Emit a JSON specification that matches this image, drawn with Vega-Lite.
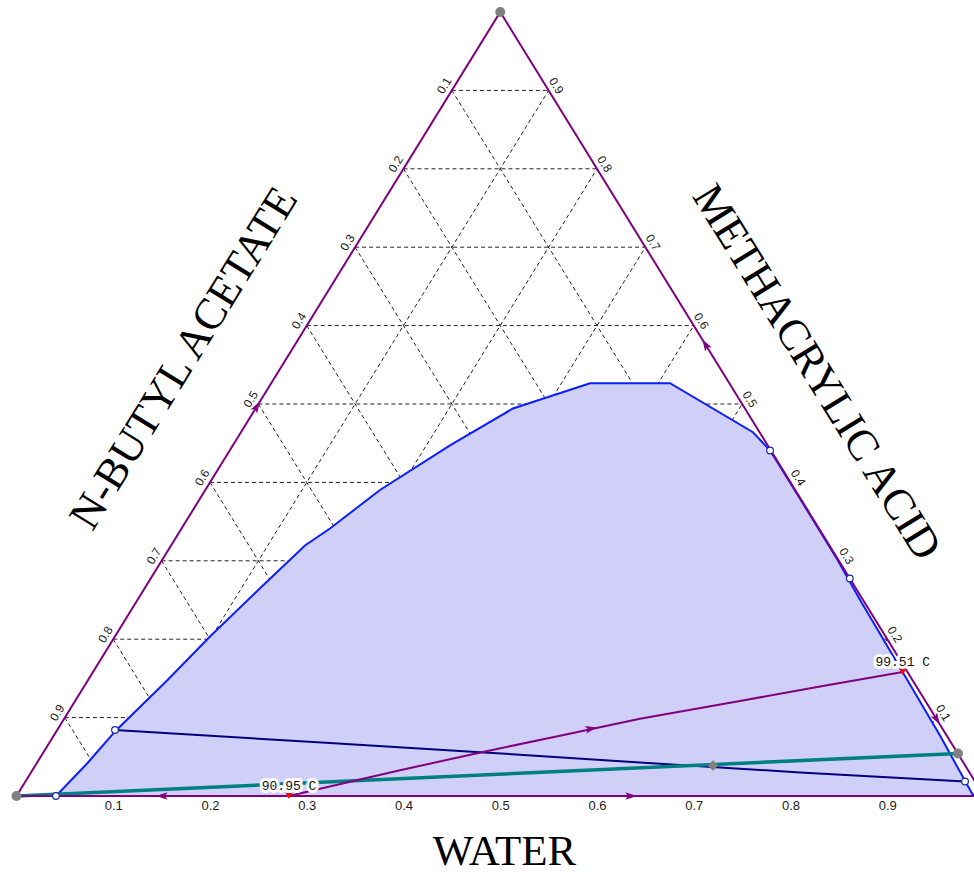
{
  "$schema": "https://vega.github.io/schema/vega-lite/v6.json",
  "width": 974,
  "height": 796,
  "autosize": {"type": "none"},
  "padding": {"left": 0, "top": 0, "right": 0, "bottom": 78},
  "background": "#ffffff",
  "config": {"view": {"stroke": null}},
  "encoding": {
    "x": {
      "field": "u",
      "type": "quantitative",
      "scale": {"domain": [-0.01705, 0.98966], "nice": false, "zero": false},
      "axis": {
        "values": [0.1, 0.2, 0.3, 0.4, 0.5, 0.6, 0.7, 0.8, 0.9],
        "format": ".1f",
        "domain": false,
        "ticks": false,
        "grid": false,
        "labelFont": "Liberation Sans",
        "labelFontSize": 13,
        "labelColor": "#1a1a1a",
        "labelPadding": 3,
        "labelFlush": false,
        "labelOverlap": false,
        "title": "WATER",
        "titleFont": "Liberation Serif",
        "titleFontSize": 43,
        "titleFontWeight": "normal",
        "titleColor": "#000000",
        "titleX": 504,
        "titleY": 68,
        "titleBaseline": "alphabetic",
        "titleAlign": "center"
      }
    },
    "y": {
      "field": "a",
      "type": "quantitative",
      "scale": {"domain": [0, 1.01531], "nice": false, "zero": false},
      "axis": null
    }
  },
  "layer": [
    {
      "description": "dashed composition grid: constant acid, constant water, constant butyl acetate",
      "data": {"values": [
        {"g": "h1", "u": 0.05, "a": 0.1}, {"g": "h1", "u": 0.95, "a": 0.1},
        {"g": "h2", "u": 0.1, "a": 0.2}, {"g": "h2", "u": 0.9, "a": 0.2},
        {"g": "h3", "u": 0.15, "a": 0.3}, {"g": "h3", "u": 0.85, "a": 0.3},
        {"g": "h4", "u": 0.2, "a": 0.4}, {"g": "h4", "u": 0.8, "a": 0.4},
        {"g": "h5", "u": 0.25, "a": 0.5}, {"g": "h5", "u": 0.75, "a": 0.5},
        {"g": "h6", "u": 0.3, "a": 0.6}, {"g": "h6", "u": 0.7, "a": 0.6},
        {"g": "h7", "u": 0.35, "a": 0.7}, {"g": "h7", "u": 0.65, "a": 0.7},
        {"g": "h8", "u": 0.4, "a": 0.8}, {"g": "h8", "u": 0.6, "a": 0.8},
        {"g": "h9", "u": 0.45, "a": 0.9}, {"g": "h9", "u": 0.55, "a": 0.9},
        {"g": "w1", "u": 0.1, "a": 0}, {"g": "w1", "u": 0.55, "a": 0.9},
        {"g": "w2", "u": 0.2, "a": 0}, {"g": "w2", "u": 0.6, "a": 0.8},
        {"g": "w3", "u": 0.3, "a": 0}, {"g": "w3", "u": 0.65, "a": 0.7},
        {"g": "w4", "u": 0.4, "a": 0}, {"g": "w4", "u": 0.7, "a": 0.6},
        {"g": "w5", "u": 0.5, "a": 0}, {"g": "w5", "u": 0.75, "a": 0.5},
        {"g": "w6", "u": 0.6, "a": 0}, {"g": "w6", "u": 0.8, "a": 0.4},
        {"g": "w7", "u": 0.7, "a": 0}, {"g": "w7", "u": 0.85, "a": 0.3},
        {"g": "w8", "u": 0.8, "a": 0}, {"g": "w8", "u": 0.9, "a": 0.2},
        {"g": "w9", "u": 0.9, "a": 0}, {"g": "w9", "u": 0.95, "a": 0.1},
        {"g": "b1", "u": 0.45, "a": 0.9}, {"g": "b1", "u": 0.9, "a": 0},
        {"g": "b2", "u": 0.4, "a": 0.8}, {"g": "b2", "u": 0.8, "a": 0},
        {"g": "b3", "u": 0.35, "a": 0.7}, {"g": "b3", "u": 0.7, "a": 0},
        {"g": "b4", "u": 0.3, "a": 0.6}, {"g": "b4", "u": 0.6, "a": 0},
        {"g": "b5", "u": 0.25, "a": 0.5}, {"g": "b5", "u": 0.5, "a": 0},
        {"g": "b6", "u": 0.2, "a": 0.4}, {"g": "b6", "u": 0.4, "a": 0},
        {"g": "b7", "u": 0.15, "a": 0.3}, {"g": "b7", "u": 0.3, "a": 0},
        {"g": "b8", "u": 0.1, "a": 0.2}, {"g": "b8", "u": 0.2, "a": 0},
        {"g": "b9", "u": 0.05, "a": 0.1}, {"g": "b9", "u": 0.1, "a": 0}
      ]},
      "mark": {"type": "line", "color": "#222222", "strokeWidth": 1, "strokeDash": [4, 3]},
      "encoding": {"detail": {"field": "g", "type": "nominal"}}
    },
    {
      "description": "two-liquid-phase region under the binodal curve",
      "data": {"name": "binodal", "values": [
        {"u": 0.0408, "a": 0},
        {"u": 0.0739, "a": 0.0427},
        {"u": 0.1028, "a": 0.0836},
        {"u": 0.1556, "a": 0.1473},
        {"u": 0.2000, "a": 0.2034},
        {"u": 0.2517, "a": 0.2650},
        {"u": 0.2982, "a": 0.3195},
        {"u": 0.3240, "a": 0.3412},
        {"u": 0.3757, "a": 0.3903},
        {"u": 0.4481, "a": 0.4471},
        {"u": 0.5132, "a": 0.4943},
        {"u": 0.5928, "a": 0.5265},
        {"u": 0.6755, "a": 0.5265},
        {"u": 0.7612, "a": 0.4640},
        {"u": 0.7789, "a": 0.4407},
        {"u": 0.8110, "a": 0.3769},
        {"u": 0.8490, "a": 0.3003},
        {"u": 0.8722, "a": 0.2494},
        {"u": 0.9162, "a": 0.1576},
        {"u": 0.9545, "a": 0.0772},
        {"u": 0.9876, "a": 0.0032},
        {"u": 0.9897, "a": 0}
      ]},
      "mark": {"type": "area", "color": "#cfcff8", "opacity": 1},
      "encoding": {"y": {"field": "a", "type": "quantitative", "stack": null}, "y2": {"datum": 0}}
    },
    {
      "data": {"name": "binodal"},
      "mark": {"type": "line", "color": "#0a1eff", "strokeWidth": 2}
    },
    {
      "description": "tie line",
      "data": {"values": [
        {"u": 0.1018, "a": 0.0842},
        {"u": 0.3240, "a": 0.0675},
        {"u": 0.4791, "a": 0.0559},
        {"u": 0.6444, "a": 0.0427},
        {"u": 0.8098, "a": 0.0300},
        {"u": 0.9804, "a": 0.0185}
      ]},
      "mark": {"type": "line", "color": "#000080", "strokeWidth": 2}
    },
    {
      "description": "mass balance line",
      "data": {"values": [
        {"u": 0, "a": 0},
        {"u": 0.9731, "a": 0.0542}
      ]},
      "mark": {"type": "line", "color": "#008080", "strokeWidth": 3.5}
    },
    {
      "description": "distillation boundary between the two azeotropes",
      "data": {"values": [
        {"u": 0.2817, "a": 0},
        {"u": 0.3137, "a": 0.0092},
        {"u": 0.3964, "a": 0.0328},
        {"u": 0.4808, "a": 0.0559},
        {"u": 0.5618, "a": 0.0769},
        {"u": 0.6444, "a": 0.0985},
        {"u": 0.7478, "a": 0.1212},
        {"u": 0.8305, "a": 0.1397},
        {"u": 0.9160, "a": 0.1582}
      ]},
      "mark": {"type": "line", "color": "#800080", "strokeWidth": 2}
    },
    {
      "description": "triangle edges",
      "data": {"values": [
        {"k": 0, "u": 0, "a": 0},
        {"k": 1, "u": 0.5, "a": 1},
        {"k": 2, "u": 1, "a": 0},
        {"k": 3, "u": 0, "a": 0}
      ]},
      "mark": {"type": "line", "color": "#800080", "strokeWidth": 2},
      "encoding": {"order": {"field": "k", "type": "quantitative"}}
    },
    {
      "data": {"values": [{"u": 0.2478, "a": 0.4955}]},
      "mark": {"type": "point", "shape": "M0,-1L0.55,0.65L0,0.3L-0.55,0.65Z", "filled": true, "color": "#800080", "opacity": 1, "size": 196, "angle": 31.7}
    },
    {
      "data": {"values": [{"u": 0.7127, "a": 0.5746}]},
      "mark": {"type": "point", "shape": "M0,-1L0.55,0.65L0,0.3L-0.55,0.65Z", "filled": true, "color": "#800080", "opacity": 1, "size": 196, "angle": 328.3}
    },
    {
      "data": {"values": [{"u": 0.9506, "a": 0.0989}]},
      "mark": {"type": "point", "shape": "M0,-1L0.55,0.65L0,0.3L-0.55,0.65Z", "filled": true, "color": "#800080", "opacity": 1, "size": 196, "angle": 148.3}
    },
    {
      "data": {"values": [{"u": 0.1514, "a": 0}]},
      "mark": {"type": "point", "shape": "M0,-1L0.55,0.65L0,0.3L-0.55,0.65Z", "filled": true, "color": "#800080", "opacity": 1, "size": 196, "angle": 270}
    },
    {
      "data": {"values": [{"u": 0.634, "a": 0}]},
      "mark": {"type": "point", "shape": "M0,-1L0.55,0.65L0,0.3L-0.55,0.65Z", "filled": true, "color": "#800080", "opacity": 1, "size": 196, "angle": 90}
    },
    {
      "data": {"values": [{"u": 0.5928, "a": 0.0856}]},
      "mark": {"type": "point", "shape": "M0,-1L0.55,0.65L0,0.3L-0.55,0.65Z", "filled": true, "color": "#800080", "opacity": 1, "size": 196, "angle": 78}
    },
    {
      "description": "white backing behind the azeotrope temperatures",
      "data": {"name": "azeotropes", "values": [
        {"u": 0.2817, "a": 0, "t": "90.95 C"},
        {"u": 0.9160, "a": 0.1582, "t": "99.51 C"}
      ]},
      "mark": {"type": "text", "font": "Liberation Mono", "fontSize": 13, "baseline": "middle", "align": "center", "dy": -10, "fill": "#ffffff", "stroke": "#ffffff", "strokeWidth": 6, "strokeJoin": "round"},
      "encoding": {"text": {"field": "t", "type": "nominal"}}
    },
    {
      "data": {"name": "azeotropes"},
      "mark": {"type": "point", "shape": "triangle-down", "filled": true, "color": "#ff0000", "opacity": 1, "size": 50}
    },
    {
      "data": {"name": "azeotropes"},
      "mark": {"type": "text", "font": "Liberation Mono", "fontSize": 13, "baseline": "middle", "align": "center", "dy": -10, "color": "#111111"},
      "encoding": {"text": {"field": "t", "type": "nominal"}}
    },
    {
      "description": "tie line end points on the binodal curve",
      "data": {"values": [
        {"u": 0.0408, "a": 0},
        {"u": 0.1018, "a": 0.0842},
        {"u": 0.7789, "a": 0.4407},
        {"u": 0.8613, "a": 0.2774},
        {"u": 0.9804, "a": 0.0185}
      ]},
      "mark": {"type": "point", "shape": "circle", "filled": true, "fill": "#ffffff", "stroke": "#1a2a9a", "strokeWidth": 1.2, "opacity": 1, "size": 45}
    },
    {
      "description": "pure components and feed points",
      "data": {"values": [
        {"u": 0, "a": 0},
        {"u": 0.5, "a": 1},
        {"u": 0.9731, "a": 0.0542}
      ]},
      "mark": {"type": "circle", "color": "#808080", "opacity": 1, "size": 100}
    },
    {
      "data": {"values": [{"u": 0.7199, "a": 0.0389}]},
      "mark": {"type": "point", "shape": "diamond", "filled": true, "color": "#808080", "opacity": 1, "size": 110}
    },
    {
      "description": "n-butyl acetate scale along the left edge",
      "data": {"values": [
        {"u": 0.45, "a": 0.9, "t": "0.1"},
        {"u": 0.4, "a": 0.8, "t": "0.2"},
        {"u": 0.35, "a": 0.7, "t": "0.3"},
        {"u": 0.3, "a": 0.6, "t": "0.4"},
        {"u": 0.25, "a": 0.5, "t": "0.5"},
        {"u": 0.2, "a": 0.4, "t": "0.6"},
        {"u": 0.15, "a": 0.3, "t": "0.7"},
        {"u": 0.1, "a": 0.2, "t": "0.8"},
        {"u": 0.05, "a": 0.1, "t": "0.9"}
      ]},
      "mark": {"type": "text", "font": "Liberation Sans", "fontSize": 12, "align": "center", "baseline": "bottom", "dy": -2, "angle": 301.7, "color": "#1a1a1a"},
      "encoding": {"text": {"field": "t", "type": "nominal"}}
    },
    {
      "description": "methacrylic acid scale along the right edge",
      "data": {"values": [
        {"u": 0.55, "a": 0.9, "t": "0.9"},
        {"u": 0.6, "a": 0.8, "t": "0.8"},
        {"u": 0.65, "a": 0.7, "t": "0.7"},
        {"u": 0.7, "a": 0.6, "t": "0.6"},
        {"u": 0.75, "a": 0.5, "t": "0.5"},
        {"u": 0.8, "a": 0.4, "t": "0.4"},
        {"u": 0.85, "a": 0.3, "t": "0.3"},
        {"u": 0.9, "a": 0.2, "t": "0.2"},
        {"u": 0.95, "a": 0.1, "t": "0.1"}
      ]},
      "mark": {"type": "text", "font": "Liberation Sans", "fontSize": 12, "align": "center", "baseline": "bottom", "dy": -2, "angle": 58.3, "color": "#1a1a1a"},
      "encoding": {"text": {"field": "t", "type": "nominal"}}
    },
    {
      "data": {"values": [{"u": 0.1736, "a": 0.558, "t": "N-BUTYL ACETATE"}]},
      "mark": {"type": "text", "font": "Liberation Serif", "fontSize": 44, "align": "center", "baseline": "middle", "angle": 301.7, "color": "#000000"},
      "encoding": {"text": {"field": "t", "type": "nominal"}}
    },
    {
      "data": {"values": [{"u": 0.8264, "a": 0.540, "t": "METHACRYLIC ACID"}]},
      "mark": {"type": "text", "font": "Liberation Serif", "fontSize": 44, "align": "center", "baseline": "middle", "angle": 58.3, "color": "#000000"},
      "encoding": {"text": {"field": "t", "type": "nominal"}}
    }
  ]
}
